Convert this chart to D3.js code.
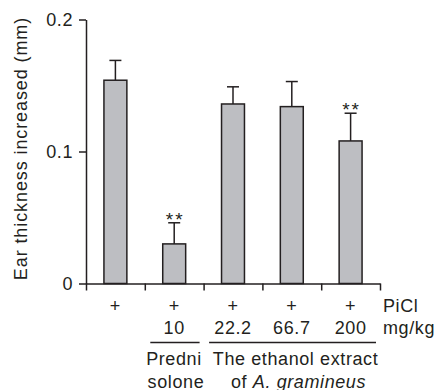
<!DOCTYPE html>
<html>
<head>
<meta charset="utf-8">
<script src="https://cdn.jsdelivr.net/npm/d3@7"></script>
<style>
  body { margin: 0; background: #fff; }
  svg { display: block; }
  text { font-family: "Liberation Sans", Arial, sans-serif; fill: #231f20; }
  .axis path, .axis line { stroke: #231f20; stroke-width: 1.5; }
  .axis text { font-size: 18px; letter-spacing: 0.6px; }
</style>
</head>
<body>
<svg id="chart"></svg>
<script>
// values
const groups = ["PiCl", "Prednisolone 10", "Extract 22.2", "Extract 66.7", "Extract 200"];
const meanValues = [0.154, 0.030, 0.136, 0.134, 0.108];
const errValues = [0.015, 0.016, 0.013, 0.019, 0.021];
const plusLabels = ["+", "+", "+", "+", "+"];
const doseLabels = ["", "10", "22.2", "66.7", "200"];
const signif = ["", "**", "", "", "**"];
const yTicks = [0, 0.1, 0.2];
const treatGroups = [
  {from: 1, to: 1, lines: ["Predni", "solone"]},
  {from: 2, to: 4, lines: ["The ethanol extract", "of A. gramineus"]}
];

const config = {
  width: 440,
  height: 390,
  margin: {top: 19.5, right: 60, bottom: 106.5, left: 86}
};

const innerW = config.width - config.margin.left - config.margin.right;
const innerH = config.height - config.margin.top - config.margin.bottom;

const svg = d3.select('#chart')
    .attr('width', config.width)
    .attr('height', config.height);

const chart = svg.append('g')
    .attr('transform', `translate(${config.margin.left},${config.margin.top})`);

// scales
const xScale = d3.scaleBand()
    .domain(groups)
    .range([0, innerW])
    .padding(0);

const yScale = d3.scaleLinear()
    .domain([0, 0.2])
    .range([innerH, 0]);

const barW = xScale.bandwidth() * 0.39;
const cx = d => xScale(d) + xScale.bandwidth() / 2;

// y axis
const yAxis = d3.axisLeft(yScale)
    .tickValues(yTicks)
    .tickSize(7)
    .tickSizeOuter(0)
    .tickPadding(6)
    .tickFormat(d => d === 0 ? "0" : d3.format(".1f")(d));

chart.append('g')
    .attr('class', 'axis y-axis')
    .call(yAxis);

// x axis: ticks at the band edges, no labels
const edgeScale = d3.scaleLinear().domain([0, groups.length]).range([0, innerW]);
chart.append('g')
    .attr('class', 'axis x-axis')
    .attr('transform', `translate(0,${innerH})`)
    .call(d3.axisBottom(edgeScale)
      .tickValues(d3.range(groups.length + 1))
      .tickSize(7)
      .tickSizeOuter(0)
      .tickFormat(''));

// error bars (drawn first so the bar covers the stem)
const errG = chart.append('g').attr('class', 'errors');
groups.forEach((g, i) => {
  const top = yScale(meanValues[i] + errValues[i]);
  errG.append('line')
      .attr('x1', cx(g)).attr('x2', cx(g))
      .attr('y1', yScale(meanValues[i])).attr('y2', top)
      .attr('stroke', '#231f20').attr('stroke-width', 1.5);
  errG.append('line')
      .attr('x1', cx(g) - 6).attr('x2', cx(g) + 6)
      .attr('y1', top).attr('y2', top)
      .attr('stroke', '#231f20').attr('stroke-width', 1.5);
  if (signif[i]) {
    errG.append('text')
        .attr('x', cx(g) + 1)
        .attr('y', top + 3)
        .attr('text-anchor', 'middle')
        .style('font-size', '19px')
        .style('letter-spacing', '2px')
        .text(signif[i]);
  }
});

// bars
chart.selectAll('.bar')
    .data(groups)
  .join('rect')
    .attr('class', 'bar')
    .attr('x', d => cx(d) - barW / 2)
    .attr('width', barW)
    .attr('y', (d, i) => yScale(meanValues[i]))
    .attr('height', (d, i) => innerH - yScale(meanValues[i]))
    .attr('fill', '#bdbec2')
    .attr('stroke', '#231f20')
    .attr('stroke-width', 1.5);

// treatment rows under the axis
const labG = chart.append('g')
    .style('font-size', '18px')
    .style('letter-spacing', '0.6px');

labG.selectAll('.plus')
    .data(groups)
  .join('text')
    .attr('class', 'plus')
    .attr('x', d => cx(d))
    .attr('y', innerH + 28)
    .attr('text-anchor', 'middle')
    .text((d, i) => plusLabels[i]);

labG.selectAll('.dose')
    .data(groups)
  .join('text')
    .attr('class', 'dose')
    .attr('x', d => cx(d))
    .attr('y', innerH + 50)
    .attr('text-anchor', 'middle')
    .text((d, i) => doseLabels[i]);

labG.append('text')
    .attr('x', innerW + 3)
    .attr('y', innerH + 28)
    .text('PiCl');

labG.append('text')
    .attr('x', innerW + 3)
    .attr('y', innerH + 50)
    .text('mg/kg');

treatGroups.forEach(t => {
  const x0 = xScale(groups[t.from]) + 5.5;
  const x1 = xScale(groups[t.to]) + xScale.bandwidth() - 4;
  const mid = (x0 + x1) / 2;
  labG.append('line')
      .attr('x1', x0).attr('x2', x1)
      .attr('y1', innerH + 59).attr('y2', innerH + 59)
      .attr('stroke', '#231f20').attr('stroke-width', 1.5);
  labG.append('text')
      .attr('x', mid + (t.to > t.from ? 3 : -1))
      .attr('y', innerH + 81)
      .attr('text-anchor', 'middle')
      .text(t.lines[0]);
  const second = labG.append('text')
      .attr('x', mid + (t.to > t.from ? 6 : 1))
      .attr('y', innerH + 104)
      .attr('text-anchor', 'middle');
  if (t.lines[1].startsWith('of A.')) {
    second.append('tspan').text('of ');
    second.append('tspan').style('font-style', 'italic').text(t.lines[1].slice(3));
  } else {
    second.text(t.lines[1]);
  }
});

// y axis title
svg.append('text')
    .attr('transform', 'rotate(-90)')
    .attr('x', -148.5)
    .attr('y', 26.5)
    .attr('text-anchor', 'middle')
    .style('font-size', '18px')
    .style('letter-spacing', '0.9px')
    .text('Ear thickness increased (mm)');
</script>
</body>
</html>
